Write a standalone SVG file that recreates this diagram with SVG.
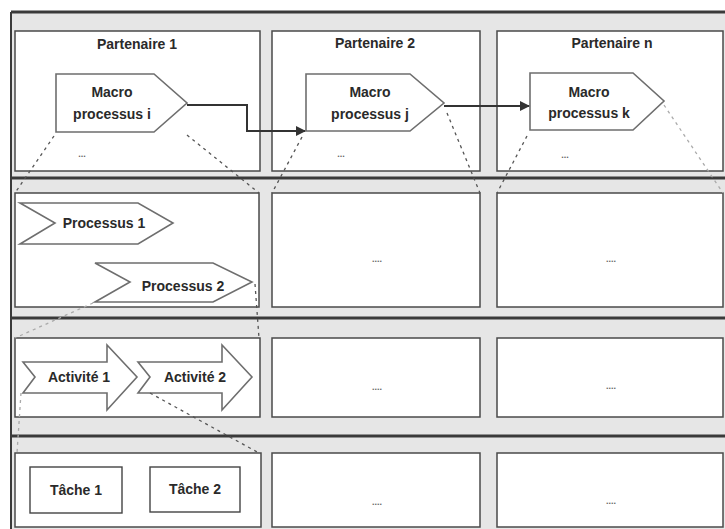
<svg xmlns="http://www.w3.org/2000/svg" width="725" height="529" viewBox="0 0 725 529">
<defs>
<style>
.band{fill:#e6e6e6}
.bandline{stroke:#3a3a3a;stroke-width:3}
.cell{fill:#ffffff;stroke:#4a4a4a;stroke-width:1.5}
.shape{fill:#ffffff;stroke:#6e6e6e;stroke-width:1.6}
.lbl{font-family:"Liberation Sans",Arial,sans-serif;font-weight:bold;font-size:14px;fill:#2a2a2a;text-anchor:middle}
.dots{font-family:"Liberation Sans",Arial,sans-serif;font-size:9px;font-weight:bold;fill:#666;text-anchor:middle}
.flow{fill:none;stroke:#333;stroke-width:2}
.zoomline{fill:none;stroke:#555;stroke-width:1.3;stroke-dasharray:3 4}
.zoomfaint{fill:none;stroke:#aaa;stroke-width:1.3;stroke-dasharray:3 4}
</style>
<marker id="arr" markerWidth="10" markerHeight="10" refX="9" refY="5" orient="auto" markerUnits="userSpaceOnUse">
<path d="M0,0 L10,5 L0,10 z" fill="#333"/>
</marker>
</defs>
<rect x="0" y="0" width="725" height="529" fill="#ffffff"/>
<!-- background bands -->
<rect class="band" x="11" y="12" width="714" height="517"/>
<line x1="11" y1="12" x2="11" y2="529" stroke="#3a3a3a" stroke-width="2"/>
<line class="bandline" x1="11" y1="12" x2="725" y2="12"/>
<line class="bandline" x1="11" y1="178" x2="725" y2="178"/>
<line class="bandline" x1="11" y1="318" x2="725" y2="318"/>
<line class="bandline" x1="11" y1="436" x2="725" y2="436"/>

<!-- row 1 cells -->
<g id="cell-partenaire-1">
<rect class="cell" x="15" y="31" width="245" height="140"/>
<text class="lbl" x="137" y="49">Partenaire 1</text>
<text class="dots" x="82" y="157">...</text>
</g>
<g id="cell-partenaire-2">
<rect class="cell" x="272" y="31" width="208" height="140"/>
<text class="lbl" x="375" y="48">Partenaire 2</text>
<text class="dots" x="341" y="157">...</text>
</g>
<g id="cell-partenaire-n">
<rect class="cell" x="497" y="31" width="226" height="140"/>
<text class="lbl" x="612" y="48">Partenaire n</text>
<text class="dots" x="565" y="158">...</text>
</g>

<!-- row 2 cells -->
<g id="cell-r2-1"><rect class="cell" x="15" y="193" width="244" height="114"/></g>
<g id="cell-r2-2"><rect class="cell" x="272" y="193" width="208" height="114"/><text class="dots" x="377" y="262">....</text></g>
<g id="cell-r2-3"><rect class="cell" x="497" y="193" width="226" height="114"/><text class="dots" x="611" y="262">....</text></g>

<!-- row 3 cells -->
<g id="cell-r3-1"><rect class="cell" x="15" y="338" width="245" height="79"/></g>
<g id="cell-r3-2"><rect class="cell" x="272" y="338" width="208" height="79"/><text class="dots" x="377" y="390">....</text></g>
<g id="cell-r3-3"><rect class="cell" x="497" y="338" width="226" height="79"/><text class="dots" x="611" y="389">....</text></g>

<!-- row 4 cells -->
<g id="cell-r4-1"><rect class="cell" x="15" y="453" width="246" height="74"/></g>
<g id="cell-r4-2"><rect class="cell" x="272" y="453" width="208" height="74"/><text class="dots" x="377" y="505">....</text></g>
<g id="cell-r4-3"><rect class="cell" x="497" y="453" width="226" height="74"/><text class="dots" x="611" y="504">....</text></g>

<!-- macro processes -->
<g id="macro-i">
<polygon class="shape" points="56,74 154,74 187,103 154,132 56,132"/>
<text class="lbl" x="112" y="97">Macro</text>
<text class="lbl" x="112" y="119">processus i</text>
</g>
<g id="macro-j">
<polygon class="shape" points="306,74 410,74 444,103 410,131 306,131"/>
<text class="lbl" x="370" y="97">Macro</text>
<text class="lbl" x="370" y="119">processus j</text>
</g>
<g id="macro-k">
<polygon class="shape" points="530,73 633,73 664,101 633,130 530,130"/>
<text class="lbl" x="589" y="97">Macro</text>
<text class="lbl" x="589" y="118">processus k</text>
</g>

<!-- processus -->
<g id="processus-1">
<polygon class="shape" points="20,203 138,203 173,223 138,244 20,244 55,223"/>
<text class="lbl" x="104" y="228">Processus 1</text>
</g>
<g id="processus-2">
<polygon class="shape" points="95,263 213,263 252,282 213,302 95,302 130,282"/>
<text class="lbl" x="183" y="291">Processus 2</text>
</g>

<!-- activities -->
<g id="activite-1">
<polygon class="shape" points="23,362 107,362 107,345 137,377 107,410 107,393 23,393 35,377"/>
<text class="lbl" x="79" y="382">Activité 1</text>
</g>
<g id="activite-2">
<polygon class="shape" points="138,362 222,362 222,345 252,377 222,410 222,393 138,393 150,377"/>
<text class="lbl" x="195" y="382">Activité 2</text>
</g>

<!-- taches -->
<g id="tache-1">
<rect x="30" y="467" width="92" height="46" fill="#fff" stroke="#444" stroke-width="1.4"/>
<text class="lbl" x="76" y="495">Tâche 1</text>
</g>
<g id="tache-2">
<rect x="150" y="467" width="90" height="45" fill="#fff" stroke="#444" stroke-width="1.4"/>
<text class="lbl" x="195" y="494">Tâche 2</text>
</g>

<!-- connectors -->
<g id="connectors">
<polyline class="flow" points="187,105 247,105 247,131 305,131" marker-end="url(#arr)"/>
<line class="flow" x1="444" y1="106" x2="529" y2="106" marker-end="url(#arr)"/>
<line class="zoomline" x1="54" y1="136" x2="15" y2="193"/>
<line class="zoomline" x1="187" y1="135" x2="259" y2="193"/>
<line class="zoomline" x1="302" y1="137" x2="272" y2="193"/>
<line class="zoomline" x1="447" y1="113" x2="480" y2="193"/>
<line class="zoomline" x1="527" y1="136" x2="497" y2="193"/>
<line class="zoomfaint" x1="664" y1="105" x2="723" y2="193"/>
<line class="zoomfaint" x1="93" y1="303" x2="15" y2="338"/>
<line class="zoomline" x1="255" y1="284" x2="259" y2="338"/>
<line class="zoomfaint" x1="21" y1="393" x2="17" y2="453"/>
<line class="zoomline" x1="150" y1="393" x2="259" y2="453"/>
</g>
</svg>
